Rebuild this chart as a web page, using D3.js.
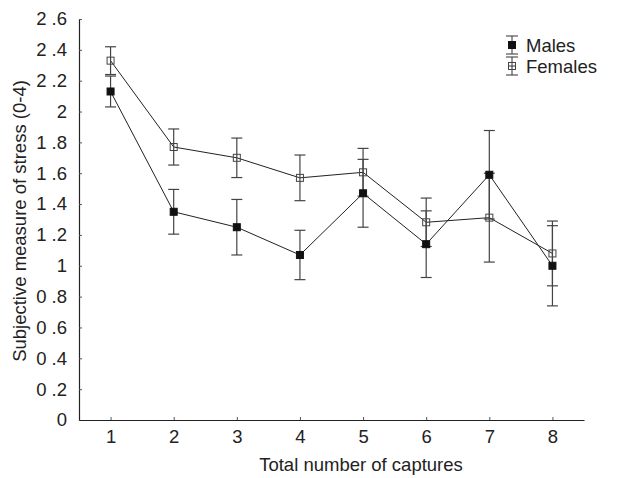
<!DOCTYPE html>
<html>
<head>
<meta charset="utf-8">
<script src="https://cdn.jsdelivr.net/npm/d3@7"></script>
<style>
  body { margin: 0; background: #fff; }
  svg { font-family: "Liberation Sans", Arial, sans-serif; }
</style>
</head>
<body>
<div id="chart"></div>
<script>
// data
const captures = [1, 2, 3, 4, 5, 6, 7, 8];
const males = [2.13, 1.35, 1.25, 1.07, 1.47, 1.14, 1.59, 1.00];
const malesErr = [0.10, 0.145, 0.18, 0.16, 0.22, 0.216, 0.287, 0.26];
const females = [2.33, 1.77, 1.70, 1.57, 1.606, 1.282, 1.312, 1.08];
const femalesErr = [0.09, 0.117, 0.128, 0.148, 0.155, 0.157, 0.288, 0.21];
const yTicks = [0, 0.2, 0.4, 0.6, 0.8, 1, 1.2, 1.4, 1.6, 1.8, 2, 2.2, 2.4, 2.6];

const width = 638, height = 478;
const margin = { top: 19, right: 54, bottom: 58, left: 79 };
const fontSize = 18.5;

const svg = d3.select("#chart").append("svg")
    .attr("width", width)
    .attr("height", height);

const x = d3.scaleLinear()
    .domain([0.5, 8.5])
    .range([margin.left, width - margin.right]);
const y = d3.scaleLinear()
    .domain([0, 2.6])
    .range([height - margin.bottom, margin.top]);

const fmt = d => Number.isInteger(d) ? String(d) : d.toFixed(1).replace(".", " .");

// axes, ticks pointing inward
const yAxis = svg.append("g")
    .attr("transform", "translate(" + margin.left + ",0)")
    .call(d3.axisLeft(y).tickValues(yTicks).tickSizeInner(-3).tickSizeOuter(0).tickPadding(12).tickFormat(fmt));
const xAxis = svg.append("g")
    .attr("transform", "translate(0," + (height - margin.bottom) + ")")
    .call(d3.axisBottom(x).tickValues(captures).tickSizeInner(-3).tickSizeOuter(0).tickPadding(10));

[xAxis, yAxis].forEach(ax => {
    ax.attr("font-size", fontSize).attr("font-family", null);
    ax.select(".domain").attr("stroke", "#222").attr("stroke-width", 1.2);
    ax.selectAll(".tick line").attr("stroke", "#555");
    ax.selectAll(".tick text").attr("fill", "#222");
});

// axis titles
svg.append("text")
    .attr("x", 361)
    .attr("y", 471)
    .attr("text-anchor", "middle")
    .attr("font-size", fontSize)
    .attr("fill", "#222")
    .text("Total number of captures");

svg.append("text")
    .attr("transform", "translate(26,221) rotate(-90)")
    .attr("text-anchor", "middle")
    .attr("font-size", fontSize)
    .attr("fill", "#222")
    .text("Subjective measure of stress (0-4)");

const series = [
    { name: "Males", values: males, err: malesErr, filled: true },
    { name: "Females", values: females, err: femalesErr, filled: false }
];

const line = d3.line()
    .x((d, i) => x(captures[i]))
    .y(d => y(d));

series.forEach(s => {
    svg.append("path")
        .datum(s.values)
        .attr("fill", "none")
        .attr("stroke", "#222")
        .attr("stroke-width", 1)
        .attr("d", line);
});

const capW = 11, sq = 7;

series.forEach(s => {
    const g = svg.append("g");
    const pts = s.values.map((v, i) => ({ x: captures[i], v: v, e: s.err[i] }));
    g.selectAll(".bar")
        .data(pts)
        .enter().append("line")
        .attr("x1", d => x(d.x)).attr("x2", d => x(d.x))
        .attr("y1", d => y(d.v + d.e)).attr("y2", d => y(d.v - d.e))
        .attr("stroke", "#444").attr("stroke-width", 1.2);
    g.selectAll(".capTop")
        .data(pts)
        .enter().append("line")
        .attr("x1", d => x(d.x) - capW / 2).attr("x2", d => x(d.x) + capW / 2)
        .attr("y1", d => y(d.v + d.e)).attr("y2", d => y(d.v + d.e))
        .attr("stroke", "#444").attr("stroke-width", 1.2);
    g.selectAll(".capBot")
        .data(pts)
        .enter().append("line")
        .attr("x1", d => x(d.x) - capW / 2).attr("x2", d => x(d.x) + capW / 2)
        .attr("y1", d => y(d.v - d.e)).attr("y2", d => y(d.v - d.e))
        .attr("stroke", "#444").attr("stroke-width", 1.2);
});

series.forEach(s => {
    svg.append("g").selectAll("rect")
        .data(s.values)
        .enter().append("rect")
        .attr("x", (d, i) => x(captures[i]) - sq / 2)
        .attr("y", d => y(d) - sq / 2)
        .attr("width", sq)
        .attr("height", sq)
        .attr("fill", s.filled ? "#111" : "none")
        .attr("stroke", s.filled ? "#111" : "#444")
        .attr("stroke-width", 1);
});

// legend
const legend = svg.append("g").attr("transform", "translate(512,45)");
series.forEach((s, i) => {
    const g = legend.append("g").attr("transform", "translate(0," + (i * 21) + ")");
    g.append("line").attr("x1", 0).attr("x2", 0).attr("y1", -9).attr("y2", 9).attr("stroke", "#333");
    g.append("line").attr("x1", -6).attr("x2", 6).attr("y1", -9).attr("y2", -9).attr("stroke", "#333");
    g.append("line").attr("x1", -6).attr("x2", 6).attr("y1", 9).attr("y2", 9).attr("stroke", "#333");
    if (!s.filled) {
        g.append("line").attr("x1", -4).attr("x2", 4).attr("y1", 0).attr("y2", 0).attr("stroke", "#333");
    }
    g.append("rect")
        .attr("x", -sq / 2).attr("y", -sq / 2)
        .attr("width", sq).attr("height", sq)
        .attr("fill", s.filled ? "#111" : "none")
        .attr("stroke", s.filled ? "#111" : "#444");
    g.append("text")
        .attr("x", 14)
        .attr("y", 1)
        .attr("dy", "0.35em")
        .attr("font-size", fontSize)
        .attr("fill", "#222")
        .text(s.name);
});
</script>
</body>
</html>
